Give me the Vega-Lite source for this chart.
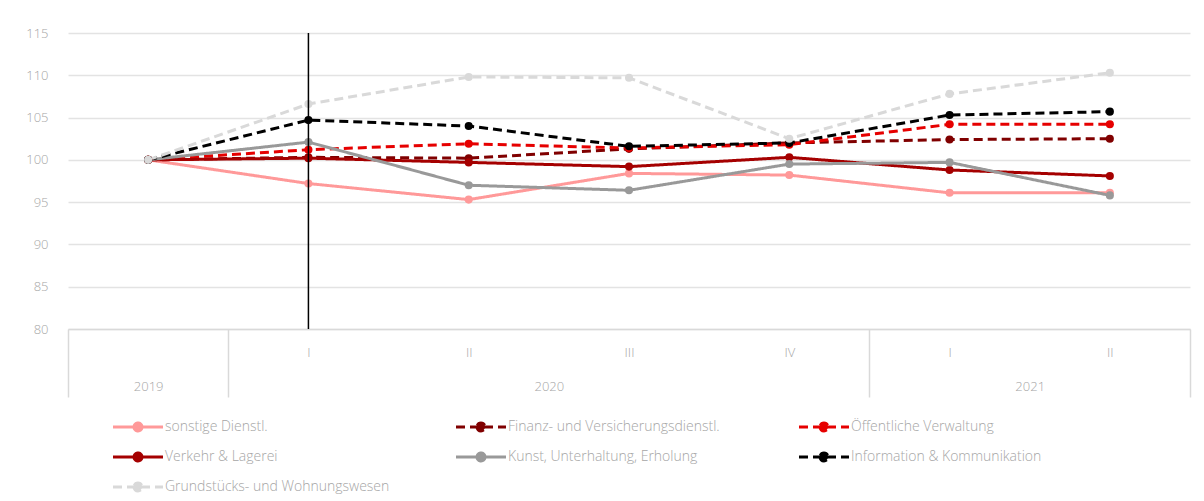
{
  "$schema": "https://vega.github.io/schema/vega-lite/v6.json",
  "width": 1122,
  "height": 296,
  "autosize": {"type": "none"},
  "padding": {"left": 68, "top": 33, "right": 14, "bottom": 172},
  "background": "white",
  "config": {
    "font": "Open Sans",
    "view": {"stroke": null},
    "axis": {"labelFont": "Open Sans", "labelFontSize": 13, "labelColor": "#a6a6a6", "labelFontWeight": 300}
  },
  "datasets": {
    "series": [
      {"t": 0, "series": "sonstige Dienstl.", "value": 100},
      {"t": 1, "series": "sonstige Dienstl.", "value": 97.2},
      {"t": 2, "series": "sonstige Dienstl.", "value": 95.3},
      {"t": 3, "series": "sonstige Dienstl.", "value": 98.4},
      {"t": 4, "series": "sonstige Dienstl.", "value": 98.2},
      {"t": 5, "series": "sonstige Dienstl.", "value": 96.1},
      {"t": 6, "series": "sonstige Dienstl.", "value": 96.1},
      {"t": 0, "series": "Finanz- und Versicherungsdienstl.", "value": 100},
      {"t": 1, "series": "Finanz- und Versicherungsdienstl.", "value": 100.3},
      {"t": 2, "series": "Finanz- und Versicherungsdienstl.", "value": 100.2},
      {"t": 3, "series": "Finanz- und Versicherungsdienstl.", "value": 101.3},
      {"t": 4, "series": "Finanz- und Versicherungsdienstl.", "value": 102.0},
      {"t": 5, "series": "Finanz- und Versicherungsdienstl.", "value": 102.4},
      {"t": 6, "series": "Finanz- und Versicherungsdienstl.", "value": 102.5},
      {"t": 0, "series": "Öffentliche Verwaltung", "value": 100},
      {"t": 1, "series": "Öffentliche Verwaltung", "value": 101.2},
      {"t": 2, "series": "Öffentliche Verwaltung", "value": 101.9},
      {"t": 3, "series": "Öffentliche Verwaltung", "value": 101.4},
      {"t": 4, "series": "Öffentliche Verwaltung", "value": 101.8},
      {"t": 5, "series": "Öffentliche Verwaltung", "value": 104.2},
      {"t": 6, "series": "Öffentliche Verwaltung", "value": 104.2},
      {"t": 0, "series": "Verkehr & Lagerei", "value": 100},
      {"t": 1, "series": "Verkehr & Lagerei", "value": 100.2},
      {"t": 2, "series": "Verkehr & Lagerei", "value": 99.7},
      {"t": 3, "series": "Verkehr & Lagerei", "value": 99.2},
      {"t": 4, "series": "Verkehr & Lagerei", "value": 100.3},
      {"t": 5, "series": "Verkehr & Lagerei", "value": 98.8},
      {"t": 6, "series": "Verkehr & Lagerei", "value": 98.1},
      {"t": 0, "series": "Kunst, Unterhaltung, Erholung", "value": 100},
      {"t": 1, "series": "Kunst, Unterhaltung, Erholung", "value": 102.1},
      {"t": 2, "series": "Kunst, Unterhaltung, Erholung", "value": 97.0},
      {"t": 3, "series": "Kunst, Unterhaltung, Erholung", "value": 96.4},
      {"t": 4, "series": "Kunst, Unterhaltung, Erholung", "value": 99.5},
      {"t": 5, "series": "Kunst, Unterhaltung, Erholung", "value": 99.7},
      {"t": 6, "series": "Kunst, Unterhaltung, Erholung", "value": 95.8},
      {"t": 0, "series": "Information & Kommunikation", "value": 100},
      {"t": 1, "series": "Information & Kommunikation", "value": 104.7},
      {"t": 2, "series": "Information & Kommunikation", "value": 104.0},
      {"t": 3, "series": "Information & Kommunikation", "value": 101.6},
      {"t": 4, "series": "Information & Kommunikation", "value": 102.0},
      {"t": 5, "series": "Information & Kommunikation", "value": 105.3},
      {"t": 6, "series": "Information & Kommunikation", "value": 105.7},
      {"t": 0, "series": "Grundstücks- und Wohnungswesen", "value": 100},
      {"t": 1, "series": "Grundstücks- und Wohnungswesen", "value": 106.6},
      {"t": 2, "series": "Grundstücks- und Wohnungswesen", "value": 109.8},
      {"t": 3, "series": "Grundstücks- und Wohnungswesen", "value": 109.7},
      {"t": 4, "series": "Grundstücks- und Wohnungswesen", "value": 102.5},
      {"t": 5, "series": "Grundstücks- und Wohnungswesen", "value": 107.8},
      {"t": 6, "series": "Grundstücks- und Wohnungswesen", "value": 110.3}
    ],
    "marker": [{"t": 1}]
  },
  "layer": [
    {
      "data": {"name": "series"},
      "mark": {"type": "line", "strokeWidth": 3, "strokeCap": "butt"},
      "encoding": {
        "x": {
          "field": "t", "type": "quantitative",
          "scale": {"domain": [-0.5, 6.5], "nice": false, "zero": false},
          "axis": {
            "orient": "bottom",
            "values": [1, 2, 3, 4, 5, 6],
            "labelExpr": "['','I','II','III','IV','I','II'][datum.value]",
            "ticks": false, "domain": true, "domainColor": "#d9d9d9", "domainWidth": 1.5,
            "grid": false, "labelPadding": 17, "title": null
          }
        },
        "y": {
          "field": "value", "type": "quantitative",
          "scale": {"domain": [80, 115], "nice": false, "zero": false},
          "axis": {
            "values": [80, 85, 90, 95, 100, 105, 110, 115],
            "grid": true, "gridColor": "#e3e3e3", "gridWidth": 1.5,
            "ticks": false, "domain": false, "labelPadding": 20, "title": null
          }
        },
        "color": {
          "field": "series", "type": "nominal",
          "scale": {
            "domain": ["sonstige Dienstl.", "Finanz- und Versicherungsdienstl.", "Öffentliche Verwaltung", "Verkehr & Lagerei", "Kunst, Unterhaltung, Erholung", "Information & Kommunikation", "Grundstücks- und Wohnungswesen"],
            "range": ["#ff9999", "#800000", "#e60000", "#a50000", "#999999", "#000000", "#d9d9d9"]
          },
          "legend": {
            "title": null, "orient": "none", "legendX": 43, "legendY": 387,
            "direction": "horizontal", "columns": 3, "gridAlign": "all",
            "columnPadding": 60, "rowPadding": 10, "padding": 0,
            "symbolType": "M-1,0L9,0M3.2,0A0.8,0.8,0,1,0,4.8,0A0.8,0.8,0,1,0,3.2,0Z",
            "symbolSize": 100, "symbolStrokeWidth": 3, "labelOffset": 40,
            "labelFont": "Open Sans", "labelFontSize": 14, "labelFontWeight": 300,
            "labelColor": "#a6a6a6", "labelLimit": 400,
            "encode": {"symbols": {"update": {"fill": {"scale": "color", "field": "value"}}}}
          }
        },
        "strokeDash": {
          "field": "series", "type": "nominal",
          "scale": {
            "domain": ["sonstige Dienstl.", "Finanz- und Versicherungsdienstl.", "Öffentliche Verwaltung", "Verkehr & Lagerei", "Kunst, Unterhaltung, Erholung", "Information & Kommunikation", "Grundstücks- und Wohnungswesen"],
            "range": [[1, 0], [9, 5], [9, 5], [1, 0], [1, 0], [9, 5], [9, 5]]
          },
          "legend": {
            "title": null, "orient": "none", "legendX": 43, "legendY": 387,
            "direction": "horizontal", "columns": 3, "gridAlign": "all",
            "columnPadding": 60, "rowPadding": 10, "padding": 0,
            "symbolType": "M-1,0L9,0M3.2,0A0.8,0.8,0,1,0,4.8,0A0.8,0.8,0,1,0,3.2,0Z",
            "symbolSize": 100, "symbolStrokeWidth": 3, "labelOffset": 40,
            "labelFont": "Open Sans", "labelFontSize": 14, "labelFontWeight": 300,
            "labelColor": "#a6a6a6", "labelLimit": 400,
            "encode": {"symbols": {"update": {"fill": {"scale": "color", "field": "value"}}}}
          }
        }
      }
    },
    {
      "data": {"name": "series"},
      "mark": {"type": "point", "filled": true, "size": 65, "opacity": 1},
      "encoding": {
        "x": {
          "field": "t", "type": "quantitative",
          "axis": {
            "orient": "bottom",
            "values": [-0.5, 0.5, 4.5, 6.5],
            "labels": false, "ticks": true, "tickSize": 68, "tickColor": "#d9d9d9", "tickWidth": 1.5,
            "domain": false, "grid": false, "title": null
          }
        },
        "y": {
          "field": "value", "type": "quantitative",
          "axis": {
            "values": [80, 85, 90, 95, 100, 105, 110, 115],
            "grid": true, "gridColor": "#e3e3e3", "gridWidth": 1.5,
            "ticks": false, "domain": false, "labelPadding": 20, "title": null
          }
        },
        "color": {"field": "series", "type": "nominal", "legend": null}
      }
    },
    {
      "data": {"name": "marker"},
      "mark": {"type": "rule", "color": "#000000", "strokeWidth": 1.5},
      "encoding": {
        "x": {
          "field": "t", "type": "quantitative",
          "axis": {
            "orient": "bottom",
            "values": [0, 2.5, 5.5],
            "labelExpr": "datum.value == 0 ? '2019' : (datum.value < 3 ? '2020' : '2021')",
            "ticks": false, "domain": false, "grid": false, "labelPadding": 51, "title": null
          }
        }
      }
    }
  ],
  "resolve": {"axis": {"x": "independent"}}
}
